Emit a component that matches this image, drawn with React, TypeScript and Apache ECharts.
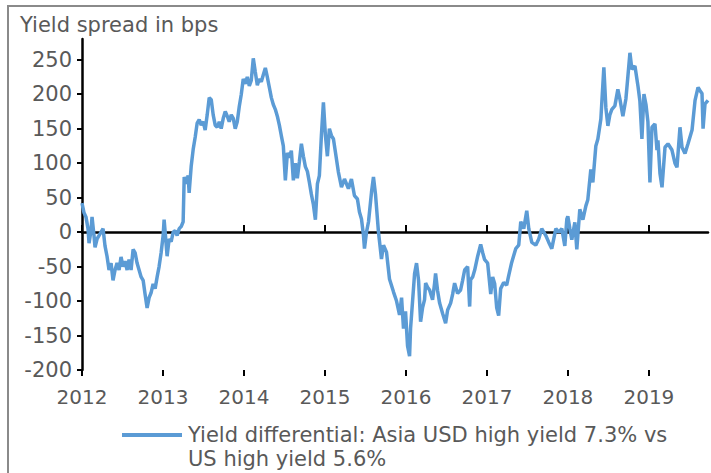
import React, { useEffect, useRef } from "react";
import * as echarts from "echarts";

const titleText = "Yield spread in bps";
const seriesName = "Yield differential: Asia USD high yield 7.3% vs\nUS high yield 5.6%";
const yearTicks = [2012, 2013, 2014, 2015, 2016, 2017, 2018, 2019];
const yTicks = [-200, -150, -100, -50, 0, 50, 100, 150, 200, 250];

// decimal years
const years = [
  2012.000, 2012.025, 2012.049, 2012.074, 2012.087, 2012.111, 2012.124, 2012.148, 2012.161, 2012.186,
  2012.210, 2012.235, 2012.260, 2012.284, 2012.309, 2012.334, 2012.359, 2012.383, 2012.408, 2012.433,
  2012.458, 2012.482, 2012.507, 2012.532, 2012.557, 2012.581, 2012.606, 2012.631, 2012.656, 2012.680,
  2012.705, 2012.730, 2012.755, 2012.779, 2012.804, 2012.829, 2012.853, 2012.878, 2012.903, 2012.928,
  2012.952, 2012.977, 2013.002, 2013.014, 2013.027, 2013.051, 2013.076, 2013.101, 2013.126, 2013.150,
  2013.175, 2013.200, 2013.225, 2013.249, 2013.262, 2013.286, 2013.311, 2013.323, 2013.348, 2013.373,
  2013.398, 2013.422, 2013.447, 2013.472, 2013.497, 2013.521, 2013.546, 2013.571, 2013.596, 2013.620,
  2013.645, 2013.670, 2013.695, 2013.719, 2013.744, 2013.769, 2013.794, 2013.818, 2013.843, 2013.868,
  2013.892, 2013.917, 2013.942, 2013.967, 2013.991, 2014.016, 2014.041, 2014.066, 2014.090, 2014.115,
  2014.140, 2014.165, 2014.189, 2014.214, 2014.239, 2014.264, 2014.288, 2014.313, 2014.338, 2014.362,
  2014.387, 2014.412, 2014.437, 2014.461, 2014.486, 2014.511, 2014.536, 2014.560, 2014.585, 2014.610,
  2014.635, 2014.659, 2014.684, 2014.709, 2014.734, 2014.758, 2014.783, 2014.808, 2014.832, 2014.857,
  2014.882, 2014.907, 2014.931, 2014.956, 2014.981, 2015.006, 2015.030, 2015.055, 2015.080, 2015.105,
  2015.129, 2015.166, 2015.204, 2015.241, 2015.290, 2015.327, 2015.364, 2015.401, 2015.426, 2015.451,
  2015.476, 2015.488, 2015.513, 2015.538, 2015.575, 2015.599, 2015.624, 2015.661, 2015.698, 2015.723,
  2015.760, 2015.797, 2015.847, 2015.884, 2015.921, 2015.946, 2015.970, 2015.995, 2016.020, 2016.045,
  2016.057, 2016.082, 2016.107, 2016.131, 2016.156, 2016.181, 2016.205, 2016.230, 2016.243, 2016.267,
  2016.292, 2016.329, 2016.354, 2016.366, 2016.391, 2016.416, 2016.453, 2016.490, 2016.515, 2016.552,
  2016.577, 2016.601, 2016.638, 2016.675, 2016.700, 2016.725, 2016.762, 2016.787, 2016.799, 2016.824,
  2016.849, 2016.886, 2016.923, 2016.948, 2016.972, 2017.009, 2017.047, 2017.071, 2017.096, 2017.121,
  2017.145, 2017.170, 2017.207, 2017.244, 2017.269, 2017.306, 2017.356, 2017.393, 2017.418, 2017.455,
  2017.492, 2017.517, 2017.554, 2017.603, 2017.640, 2017.677, 2017.727, 2017.764, 2017.801, 2017.851,
  2017.888, 2017.925, 2017.962, 2017.987, 2017.999, 2018.024, 2018.048, 2018.086, 2018.110, 2018.147,
  2018.185, 2018.222, 2018.246, 2018.283, 2018.308, 2018.345, 2018.370, 2018.407, 2018.444, 2018.469,
  2018.494, 2018.518, 2018.543, 2018.580, 2018.617, 2018.642, 2018.679, 2018.716, 2018.741, 2018.766,
  2018.790, 2018.828, 2018.865, 2018.889, 2018.914, 2018.939, 2018.964, 2018.988, 2019.013, 2019.038,
  2019.075, 2019.100, 2019.112, 2019.137, 2019.162, 2019.199, 2019.236, 2019.285, 2019.322, 2019.347,
  2019.384, 2019.409, 2019.446, 2019.483, 2019.533, 2019.570, 2019.607, 2019.632, 2019.656, 2019.669,
  2019.693, 2019.730,
];

// yield spread, bps
const spread = [
  42, 28, 22, 5, -16, 2, 22, -5, -22, -10,
  -5, 0, 5, -20, -35, -55, -45, -70, -55, -45,
  -55, -36, -50, -42, -55, -40, -55, -25, -30, -45,
  -55, -65, -70, -90, -110, -95, -88, -75, -82, -65,
  -50, -30, -5, 18, 0, -35, -10, -14, 0, 2,
  -5, 5, 8, 15, 80, 70, 82, 57, 95, 120,
  138, 158, 163, 155, 160, 148, 170, 195, 192, 170,
  155, 152, 160, 150, 165, 175, 168, 160, 170, 165,
  150, 160, 182, 200, 222, 215, 225, 212, 220, 252,
  232, 213, 222, 218, 228, 238, 225, 210, 195, 185,
  178, 168, 155, 140, 125, 75, 115, 108, 118, 75,
  100, 78, 102, 128, 110, 95, 88, 72, 55, 40,
  18, 70, 82, 140, 188, 140, 110, 150, 140, 135,
  116, 87, 65, 77, 63, 77, 53, 48, 29, 19,
  -5, -24, 0, 15, 58, 80, 55, 0, -39, -19,
  -29, -68, -87, -100, -120, -95, -140, -115, -165, -180,
  -140, -100, -60, -45, -70, -130, -110, -98, -74, -80,
  -84, -98, -74, -60, -85, -103, -118, -132, -113, -103,
  -90, -74, -89, -84, -70, -55, -50, -108, -69, -65,
  -55, -35, -18, -30, -40, -45, -90, -65, -75, -110,
  -121, -82, -73, -77, -63, -44, -24, -19, 15, 5,
  31, 5, -15, -19, -10, 5, -5, -15, -24, 5,
  0, 5, -20, 19, 23, 5, -11, 14, -25, 33,
  18, 38, 47, 91, 72, 125, 135, 164, 239, 180,
  154, 170, 178, 183, 207, 193, 168, 193, 226, 260,
  236, 241, 212, 190, 135, 200, 185, 160, 72, 152,
  157, 119, 133, 85, 65, 123, 128, 119, 100, 94,
  152, 123, 114, 128, 148, 191, 210, 205, 201, 150,
  186, 191,
];

export default function App() {
  const ref = useRef<HTMLDivElement>(null);
  useEffect(() => {
    if (!ref.current) return;
    const chart = echarts.init(ref.current, null, { renderer: "svg" });
    const font = "DejaVu Sans";
    const gray = "#595959";
    const blue = "#5B9BD5";
    const xMin = 2012;
    const xMax = 2019.73;
    const data = years.map((y, i) => [y, spread[i]]);
    const legendLines = seriesName.split("\n");
    chart.setOption({
      animation: false,
      backgroundColor: "#ffffff",
      title: {
        text: titleText,
        left: 20,
        top: 14,
        padding: 0,
        textStyle: { color: gray, fontSize: 21, fontWeight: "normal", fontFamily: font },
      },
      legend: { show: false, data: [seriesName] },
      grid: { left: 82, right: 3, top: 39, bottom: 103, containLabel: false },
      xAxis: [
        {
          type: "value",
          min: xMin,
          max: xMax,
          position: "bottom",
          axisLine: { show: false, onZero: false },
          axisTick: { show: false },
          splitLine: { show: false },
          axisLabel: {
            customValues: yearTicks,
            formatter: (v: number) => String(Math.round(v)),
            color: gray,
            fontSize: 20,
            fontFamily: font,
            margin: 17,
          },
        },
        {
          type: "value",
          min: xMin,
          max: xMax,
          position: "top",
          axisLine: { show: true, onZero: true, lineStyle: { color: "#000", width: 2.5 } },
          axisTick: { show: true, customValues: yearTicks, length: 7, lineStyle: { color: "#000", width: 2 } },
          axisLabel: { show: false },
          splitLine: { show: false },
        },
        {
          type: "value",
          min: xMin,
          max: xMax,
          position: "bottom",
          axisLine: { show: false, onZero: true },
          axisTick: { show: true, customValues: yearTicks, length: 6, lineStyle: { color: "#000", width: 2 } },
          axisLabel: { show: false },
          splitLine: { show: false },
        },
      ],
      yAxis: {
        type: "value",
        min: -200,
        max: 280,
        axisLine: { show: true, onZero: false, lineStyle: { color: "#000", width: 2.5 } },
        axisTick: { show: true, customValues: yTicks, length: 5, lineStyle: { color: "#000", width: 2 } },
        axisLabel: { customValues: yTicks, color: gray, fontSize: 21, fontFamily: font, margin: 10 },
        splitLine: { show: false },
      },
      graphic: [
        {
          type: "rect",
          silent: true,
          z: -10,
          shape: { x: 8, y: 6, width: 720, height: 480 },
          style: { fill: "none", stroke: "#8a8a8a", lineWidth: 2 },
        },
        {
          type: "line",
          silent: true,
          shape: { x1: 122, y1: 435, x2: 182, y2: 435 },
          style: { stroke: blue, lineWidth: 4 },
        },
        {
          type: "text",
          silent: true,
          x: 188,
          y: 435,
          style: {
            text: legendLines[0],
            fill: gray,
            fontSize: 21,
            fontFamily: font,
            align: "left",
            verticalAlign: "middle",
          },
        },
        {
          type: "text",
          silent: true,
          x: 188,
          y: 459,
          style: {
            text: legendLines[1],
            fill: gray,
            fontSize: 21,
            fontFamily: font,
            align: "left",
            verticalAlign: "middle",
          },
        },
      ],
      series: [
        {
          name: seriesName,
          type: "line",
          xAxisIndex: 0,
          yAxisIndex: 0,
          data,
          showSymbol: false,
          symbol: "none",
          lineStyle: { color: blue, width: 3.5 },
          itemStyle: { color: blue },
          z: 5,
        },
      ],
    });
    return () => chart.dispose();
  }, []);
  return (
    <div
      ref={ref}
      style={{ position: "fixed", left: 0, top: 0, width: 711, height: 473, background: "#fff" }}
    />
  );
}
